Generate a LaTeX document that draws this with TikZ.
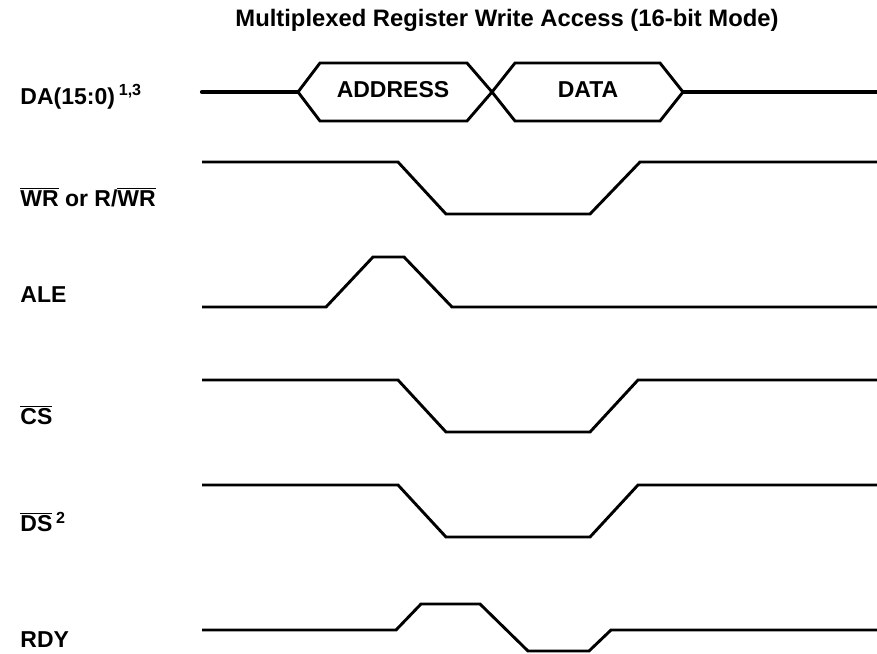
\documentclass[tikz,border=0pt]{standalone}
\usepackage{fontspec}
\setmainfont{Liberation Sans}
\usetikzlibrary{positioning}
\newcommand{\ovl}[1]{$\overline{\hbox{#1}}$}
\newcommand{\sig}[1]{\fontsize{11.5}{13}\selectfont\bfseries #1}

\begin{document}
\begin{tikzpicture}[x=0.5pt, y=-0.5pt,
    wave/.style={line width=1.45pt, line join=miter},
    bus/.style={line width=2.1pt, line cap=round},
    lbl/.style={anchor=west, inner sep=0pt, font=\fontsize{11.5}{13}\selectfont\bfseries}]
    \useasboundingbox (0,0) rectangle (877,653);

    \node[font=\fontsize{11.9}{14}\selectfont\bfseries] (title) at (507,20)
        {Multiplexed Register Write Access (16-bit Mode)};

    % signal names
    \node[lbl] (da)  at (20,97)  {DA(15:0)\,\textsuperscript{1,3}};
    \node[lbl] (wr)  at (20,197) {\ovl{WR} or R/\ovl{WR}};
    \node[lbl] (ale) at (20,295) {ALE};
    \node[lbl] (cs)  at (20,415) {\ovl{CS}};
    \node[lbl] (ds)  at (20,522) {\ovl{DS}\,\textsuperscript{2}};
    \node[lbl] (rdy) at (20,640) {RDY};

    % address / data bus
    \draw[bus] (202,92) -- (298,92);
    \draw[wave] (298,92) -- (320,63) -- (467,63) -- (492,92) -- (515,121) -- (660,121) -- (683,92);
    \draw[wave] (298,92) -- (320,121) -- (467,121) -- (492,92) -- (515,63) -- (660,63) -- (683,92);
    \draw[bus] (683,92) -- (877,92);
    \node[font=\sig{}] (addr) at (393,90) {ADDRESS};
    \node[font=\sig{}] (data) at (588,90) {DATA};

    \draw[wave] (202,162) -- (398,162) -- (446,214) -- (590,214) -- (640,162) -- (877,162);

    \draw[wave] (202,307) -- (326,307) -- (373,257) -- (404,257) -- (452,307) -- (877,307);

    \draw[wave] (202,380) -- (398,380) -- (446,432) -- (590,432) -- (638,380) -- (877,380);

    \draw[wave] (202,485) -- (398,485) -- (446,537) -- (590,537) -- (638,485) -- (877,485);

    \draw[wave] (202,630) -- (396,630) -- (421,604) -- (480,604) -- (528,651) -- (589,651) -- (611,630) -- (877,630);

\end{tikzpicture}
\end{document}
